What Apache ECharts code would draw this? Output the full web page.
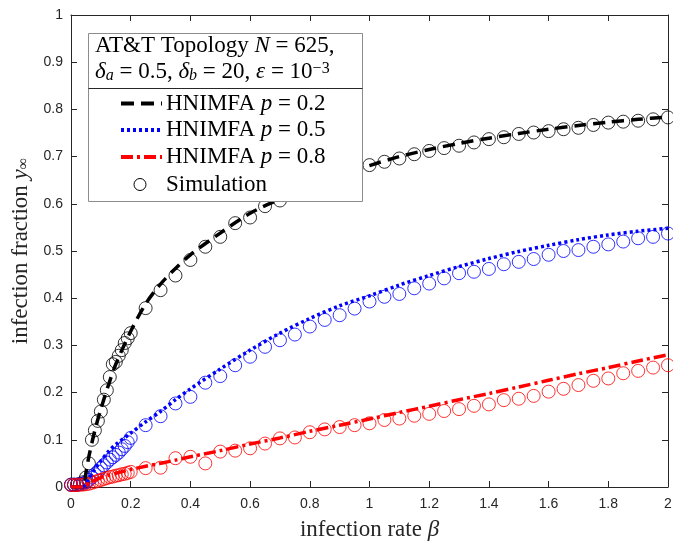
<!DOCTYPE html>
<html>
<head>
<meta charset="utf-8">
<script src="https://cdn.jsdelivr.net/npm/echarts@6/dist/echarts.min.js"></script>
<style>
html,body{margin:0;padding:0;background:#fff;}
#chart{width:673px;height:541px;}
</style>
</head>
<body>
<div id="chart"></div>
<script>
// ---- data ----
const betaDense = [0,0.01,0.02,0.03,0.04,0.05,0.06,0.07,0.08,0.09,0.10,0.11,0.12,0.13,0.14,0.15,0.16,0.17,0.18,0.19,0.20];
const betaCoarse = [0.25,0.30,0.35,0.40,0.45,0.50,0.55,0.60,0.65,0.70,0.75,0.80,0.85,0.90,0.95,1.00,1.05,1.10,1.15,1.20,1.25,1.30,1.35,1.40,1.45,1.50,1.55,1.60,1.65,1.70,1.75,1.80,1.85,1.90,1.95,2.00];

const simBlackDense = [0.005,0.005,0.005,0.006,0.010,0.020,0.050,0.100,0.120,0.140,0.160,0.185,0.205,0.233,0.260,0.265,0.278,0.290,0.305,0.315,0.326];
const simBlueDense  = [0.005,0.005,0.005,0.006,0.007,0.010,0.015,0.020,0.027,0.033,0.040,0.046,0.052,0.058,0.063,0.068,0.073,0.080,0.087,0.095,0.104];
const simRedDense   = [0.004,0.004,0.004,0.005,0.005,0.006,0.007,0.009,0.011,0.013,0.015,0.017,0.019,0.021,0.022,0.024,0.025,0.027,0.028,0.030,0.032];

const simBlackCoarse = [0.379,0.417,0.448,0.481,0.509,0.530,0.559,0.571,0.595,0.607,0.620,0.635,0.650,0.660,0.672,0.682,0.689,0.696,0.705,0.712,0.718,0.723,0.730,0.737,0.741,0.748,0.751,0.754,0.758,0.761,0.767,0.772,0.774,0.776,0.779,0.783];
const simBlueCoarse  = [0.131,0.150,0.177,0.191,0.221,0.235,0.258,0.276,0.297,0.311,0.323,0.340,0.354,0.364,0.378,0.393,0.403,0.409,0.421,0.431,0.442,0.453,0.456,0.462,0.472,0.477,0.483,0.492,0.500,0.502,0.509,0.514,0.520,0.527,0.530,0.537];
const simRedCoarse   = [0.040,0.041,0.061,0.064,0.050,0.075,0.077,0.082,0.092,0.103,0.105,0.116,0.122,0.127,0.131,0.135,0.142,0.145,0.151,0.155,0.161,0.165,0.172,0.175,0.184,0.187,0.193,0.202,0.208,0.216,0.225,0.230,0.241,0.246,0.253,0.258];

const betaLine  = [0,0.04,0.05,0.06,0.08,0.10,0.125,0.15,0.20,0.25,0.30,0.35,0.40,0.50,0.60,0.70,0.80,0.90,1.00,1.10,1.20,1.30,1.40,1.50,1.60,1.70,1.80,1.90,2.00];
const lineBlack = [0,0.000,0.030,0.065,0.120,0.165,0.215,0.260,0.330,0.388,0.430,0.463,0.492,0.538,0.580,0.610,0.636,0.660,0.681,0.700,0.715,0.728,0.739,0.749,0.758,0.766,0.773,0.779,0.784];
const lineBlue  = [0,0.000,0.008,0.018,0.038,0.055,0.075,0.090,0.114,0.138,0.160,0.185,0.208,0.250,0.290,0.326,0.357,0.384,0.405,0.428,0.448,0.467,0.484,0.499,0.512,0.524,0.534,0.542,0.548];
const lineRed   = [0,0.000,0.004,0.008,0.014,0.020,0.025,0.029,0.037,0.044,0.050,0.057,0.064,0.077,0.091,0.104,0.118,0.131,0.144,0.158,0.171,0.185,0.198,0.212,0.226,0.240,0.253,0.267,0.280];

const xTicks = [0,0.2,0.4,0.6,0.8,1,1.2,1.4,1.6,1.8,2];
const yTicks = [0,0.1,0.2,0.3,0.4,0.5,0.6,0.7,0.8,0.9,1];

const legendTitle1 = '{r|AT&T Topology }{i|N}{r| = 625,}';
const legendTitle2 = '{i|δ}{s|a}{r| = 0.5, }{i|δ}{s|b}{r| = 20, }{i|ε}{r| = 10}{p|−3}';
const legendNames = ['0.2','0.5','0.8'];

// ---- build ----
function zip(xs, ys){ return xs.map((x,i)=>[x, ys[i]]); }
const AX = '#262626';
const SERIF = 'Liberation Serif';
const FS = 23;

const richBase = {
  r:{fontFamily:SERIF,fontSize:FS,color:'#000'},
  i:{fontFamily:SERIF,fontSize:FS,fontStyle:'italic',color:'#000'},
  s:{fontFamily:SERIF,fontSize:16,fontStyle:'italic',color:'#000',lineHeight:8,verticalAlign:'bottom'},
  p:{fontFamily:SERIF,fontSize:16,color:'#000',lineHeight:10,verticalAlign:'top'}
};

function simSeries(name, color, xs, ys){
  return {type:'scatter', name:name, data:zip(xs,ys), symbol:'circle', symbolSize:13,
    itemStyle:{color:'rgba(0,0,0,0)', borderColor:color, borderWidth:1}, z:2, silent:true};
}
function lineSeries(name, color, ys, dash){
  return {type:'line', name:name, data:zip(betaLine, ys), showSymbol:false, smooth:0.3,
    lineStyle:{color:color, width:3.5, type:dash, cap:'butt'}, z:3, silent:true};
}

const chart = echarts.init(document.getElementById('chart'), null, {renderer:'canvas'});

const labelStyle = {color:AX, fontSize:14, fontFamily:'Liberation Sans'};
const legendRows = [103.5, 130, 157];
const legendColors = ['#000','#0000ff','#ff0000'];
const legendDash = [[13,7],[3,3],[12,4,3,4]];

const graphics = [
  {type:'rect', z:50, shape:{x:88.5,y:33.5,width:274,height:168}, style:{fill:'#fff', stroke:'#8c8c8c', lineWidth:1}},
  {type:'line', z:51, shape:{x1:88.5,y1:88.5,x2:362.5,y2:88.5}, style:{stroke:'#262626', lineWidth:1}},
  {type:'text', z:51, x:95, y:46, style:{text:legendTitle1, rich:richBase, verticalAlign:'middle'}},
  {type:'text', z:51, x:95, y:72, style:{text:legendTitle2, rich:richBase, verticalAlign:'middle'}}
];
legendNames.forEach((p,k)=>{
  graphics.push({type:'line', z:51, shape:{x1:121,y1:legendRows[k],x2:162,y2:legendRows[k]},
    style:{stroke:legendColors[k], lineWidth:4, lineDash:legendDash[k], lineCap:'butt'}});
  graphics.push({type:'text', z:51, x:166, y:legendRows[k], style:{text:'{r|HNIMFA }{i|p}{r| = '+p+'}', rich:richBase, verticalAlign:'middle'}});
});
graphics.push({type:'circle', z:51, shape:{cx:140, cy:184.5, r:6}, style:{fill:'none', stroke:'#000', lineWidth:1}});
graphics.push({type:'text', z:51, x:166, y:184.5, style:{text:'{r|Simulation}', rich:richBase, verticalAlign:'middle'}});

const option = {
  backgroundColor:'#fff',
  animation:false,
  grid:{left:71, right:5, top:15, bottom:54, containLabel:false, outerBoundsMode:'none'},
  xAxis:[
    {type:'value', min:0, max:2, interval:0.2, position:'bottom',
     axisLine:{show:true, onZero:false, lineStyle:{color:AX,width:1}},
     axisTick:{show:true, inside:true, length:6, lineStyle:{color:AX}},
     axisLabel:Object.assign({margin:10, formatter:(v)=>String(+v.toFixed(1))}, labelStyle),
     splitLine:{show:false},
     name:'{r|infection rate }{i|β}', nameLocation:'middle', nameGap:31,
     nameTextStyle:{rich:{r:{fontFamily:SERIF,fontSize:23,color:AX}, i:{fontFamily:SERIF,fontSize:23,fontStyle:'italic',color:AX}}}},
    {type:'value', min:0, max:2, interval:0.2, position:'top',
     axisLine:{show:true, onZero:false, lineStyle:{color:AX,width:1}},
     axisTick:{show:true, inside:true, length:6, lineStyle:{color:AX}},
     axisLabel:{show:false}, splitLine:{show:false}}
  ],
  yAxis:[
    {type:'value', min:0, max:1, interval:0.1, position:'left',
     axisLine:{show:true, onZero:false, lineStyle:{color:AX,width:1}},
     axisTick:{show:true, inside:true, length:6, lineStyle:{color:AX}},
     axisLabel:Object.assign({margin:8, formatter:(v)=>String(+v.toFixed(1))}, labelStyle),
     splitLine:{show:false},
     name:'{r|infection fraction }{i|y}{s|∞}', nameLocation:'middle', nameGap:39,
     nameTextStyle:{rich:{r:{fontFamily:SERIF,fontSize:23,color:AX}, i:{fontFamily:SERIF,fontSize:23,fontStyle:'italic',color:AX},
       s:{fontFamily:SERIF,fontSize:16,color:AX,lineHeight:8,verticalAlign:'bottom'}}}},
    {type:'value', min:0, max:1, interval:0.1, position:'right',
     axisLine:{show:true, onZero:false, lineStyle:{color:AX,width:1}},
     axisTick:{show:true, inside:true, length:6, lineStyle:{color:AX}},
     axisLabel:{show:false}, splitLine:{show:false}}
  ],
  series:[
    simSeries('sim02', '#000', betaDense.concat(betaCoarse), simBlackDense.concat(simBlackCoarse)),
    simSeries('sim05', '#0000ff', betaDense.concat(betaCoarse), simBlueDense.concat(simBlueCoarse)),
    simSeries('sim08', '#ff0000', betaDense.concat(betaCoarse), simRedDense.concat(simRedCoarse)),
    lineSeries('p02', '#000', lineBlack, [12,7]),
    lineSeries('p05', '#0000ff', lineBlue, [3,3]),
    lineSeries('p08', '#ff0000', lineRed, [12,4,3,4])
  ],
  graphic:graphics
};
chart.setOption(option);
</script>
</body>
</html>
